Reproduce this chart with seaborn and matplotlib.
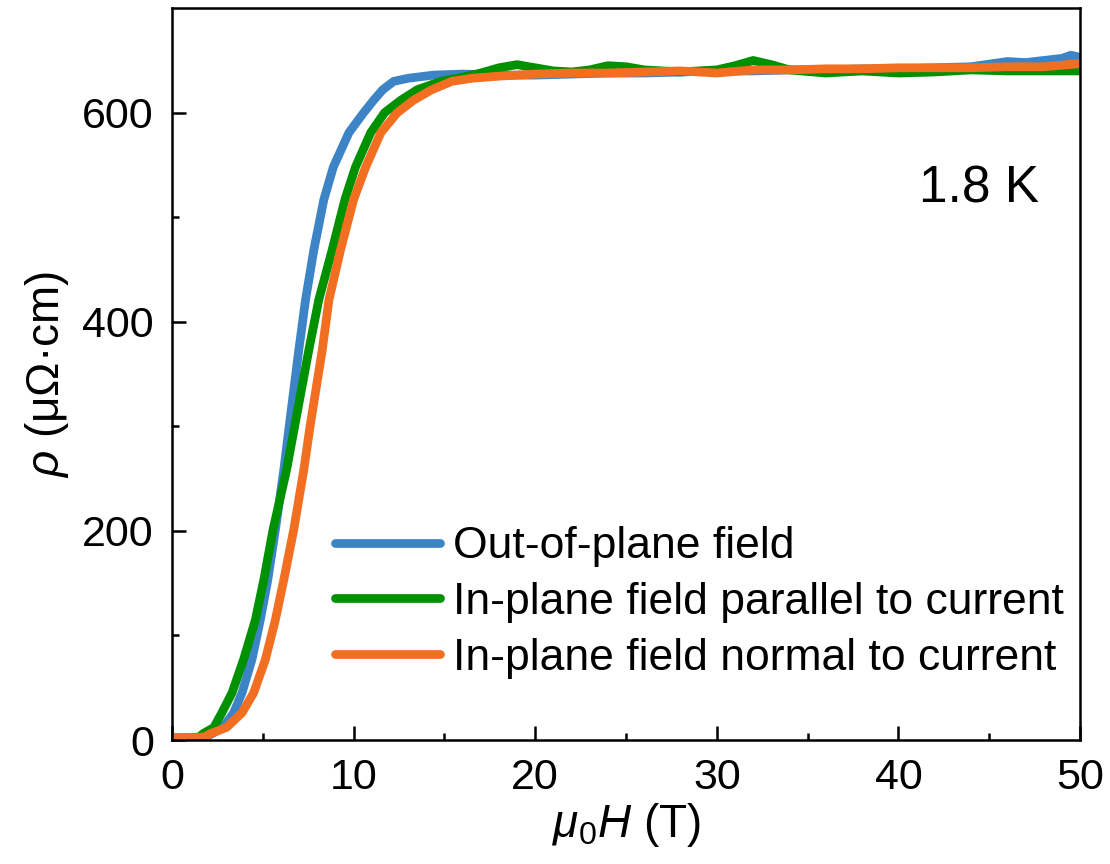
import numpy as np
import pandas as pd
import matplotlib
matplotlib.use('Agg')
import matplotlib.pyplot as plt
import seaborn as sns

# field (T) and resistivity (uOhm cm)
H_out = [0, 1.0, 1.8, 2.2, 2.8, 3.39, 3.85, 4.40, 4.86, 5.27, 5.69, 6.15, 6.45, 6.98, 7.35,
         7.81, 8.36, 8.88, 9.74, 10.55, 11.1, 11.6, 12.2, 13.0, 14.4, 16, 18, 20, 22, 24,
         26, 28, 30, 32, 34, 36, 38, 40, 42, 44, 46, 47, 48, 49, 49.5, 50]
rho_out = [2, 2, 3, 6, 12, 26, 45, 77, 115, 153, 201, 258, 300, 373, 421,
           469, 517, 548, 581, 600, 612, 622, 630, 633, 636, 637, 636, 636, 637, 638,
           638, 639, 640, 640, 641, 641, 642, 642, 643, 644, 649, 648, 650, 652, 655, 653]

H_par = [0, 1.0, 1.5, 1.7, 2.3, 2.74, 3.30, 3.94, 4.59, 5.05, 5.56, 6.3, 6.75, 7.53, 8.08,
         8.82, 9.52, 10.1, 10.94, 11.7, 12.6, 13.5, 14.8, 16, 17, 18, 19, 20, 21, 22,
         23, 24, 25, 26, 27, 28, 29, 30, 31, 32, 33, 34, 36, 38, 40, 42, 44, 46, 48, 50]
rho_par = [2, 2, 3, 6, 12, 26, 45, 77, 115, 153, 201, 258, 300, 373, 421,
           469, 517, 548, 581, 600, 612, 622, 630, 634, 638, 643, 646, 643, 640, 639,
           641, 645, 644, 641, 640, 639, 640, 641, 645, 650, 646, 641, 638, 640, 638,
           639, 641, 640, 640, 640]

H_norm = [0, 1.0, 1.8, 2.1, 3.0, 3.85, 4.49, 5.14, 5.69, 6.15, 6.70, 7.25, 7.6, 8.27, 8.64,
          9.28, 10.0, 10.66, 11.5, 12.4, 13.3, 14.3, 15.4, 16.5, 18, 20, 22, 24, 26, 28,
          30, 32, 34, 36, 38, 40, 42, 44, 46, 48, 50]
rho_norm = [2, 2, 3, 6, 12, 26, 45, 77, 115, 153, 201, 258, 300, 373, 421,
            469, 517, 548, 581, 600, 612, 622, 630, 633, 635, 637, 638, 638, 639, 640,
            638, 641, 641, 642, 642, 643, 643, 643, 644, 644, 647]

labels = ['Out-of-plane field',
          'In-plane field parallel to current',
          'In-plane field normal to current']
colors = ['#3d84c6', '#009100', '#f26f22']

df = pd.concat([
    pd.DataFrame({'H': H_out, 'rho': rho_out, 'field': labels[0]}),
    pd.DataFrame({'H': H_par, 'rho': rho_par, 'field': labels[1]}),
    pd.DataFrame({'H': H_norm, 'rho': rho_norm, 'field': labels[2]}),
])

sns.set_style('ticks')
plt.rcParams['font.family'] = ['Liberation Sans', 'DejaVu Sans']
plt.rcParams['mathtext.fontset'] = 'custom'
plt.rcParams['mathtext.rm'] = 'Liberation Sans'
plt.rcParams['mathtext.it'] = 'Liberation Sans:italic'
for key in ['text.color', 'axes.labelcolor', 'xtick.color', 'ytick.color']:
    plt.rcParams[key] = 'black'

fig = plt.figure(figsize=(11.1, 8.64), dpi=100)
ax = fig.add_axes([0.155, 0.1435, 0.818, 0.847])

sns.lineplot(data=df, x='H', y='rho', hue='field', palette=dict(zip(labels, colors)),
             estimator=None, sort=False, linewidth=6.3, ax=ax)
for ln in ax.get_lines():
    ln.set_solid_capstyle('round')
    ln.set_solid_joinstyle('round')

ax.set_xlim(0, 50)
ax.set_ylim(0, 700)
ax.set_xticks([0, 10, 20, 30, 40, 50])
ax.set_yticks([0, 200, 400, 600])
ax.set_xticks(np.arange(5, 50, 10), minor=True)
ax.set_yticks([100, 300, 500], minor=True)

for s in ax.spines.values():
    s.set_visible(True)
    s.set_linewidth(1.8)
    s.set_color('black')

ax.tick_params(which='both', direction='in', top=False, right=False, width=1.8, color='black')
ax.tick_params(which='major', length=10, labelsize=31, pad=13)
ax.tick_params(which='minor', length=5)

ax.set_xlabel(r'$\mu_0H$ (T)', fontsize=33, labelpad=2)
ax.set_ylabel(r'$\rho$ (μΩ·cm)', fontsize=33, labelpad=8)

ax.text(0.889, 0.753, '1.8 K', transform=ax.transAxes, ha='center', va='center', fontsize=37)

handles, labs = ax.get_legend_handles_labels()
leg = ax.legend(handles, labs, loc='lower left', bbox_to_anchor=(0.18, 0.084),
                frameon=False, fontsize=32, handlelength=2.36, handletextpad=0.29,
                labelspacing=0.33, borderpad=0, borderaxespad=0)
for h in leg.get_lines():
    h.set_linewidth(6.3)
    h.set_solid_capstyle('round')

fig.savefig('out.png', dpi=100)
